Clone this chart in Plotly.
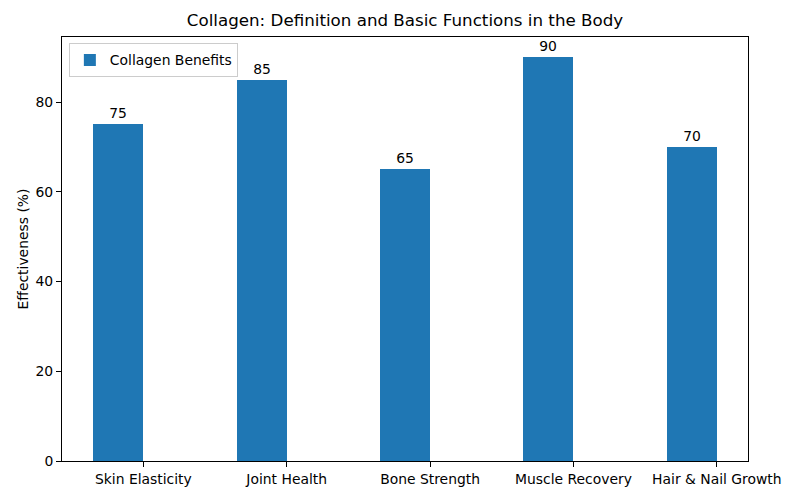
import plotly.graph_objects as go

categories = ["Skin Elasticity", "Joint Health", "Bone Strength", "Muscle Recovery", "Hair & Nail Growth"]
values = [75, 85, 65, 90, 70]
series_name = "Collagen Benefits"
y_ticks = [0, 20, 40, 60, 80]

fig = go.Figure()
fig.add_trace(go.Bar(
    x=categories, y=values, name=series_name,
    marker=dict(color="#1f77b4", line=dict(width=0)),
    offset=-0.35, width=0.35,
    text=[str(v) for v in values], textposition="outside",
    textfont=dict(size=13.9, color="black"), cliponaxis=False,
))

font = "DejaVu Sans, sans-serif"
fig.update_layout(
    width=800, height=500,
    margin=dict(l=62, r=52, t=37, b=39),
    paper_bgcolor="white", plot_bgcolor="white",
    font=dict(family=font, size=13.9, color="black"),
    title=dict(text="Collagen: Definition and Basic Functions in the Body",
               x=0.5, xref="paper", xanchor="center", y=1, yref="container",
               yanchor="top", pad=dict(t=14), font=dict(size=16.7, color="black")),
    showlegend=True,
    legend=dict(x=0.01, y=0.985, xanchor="left", yanchor="top",
                bgcolor="rgba(255,255,255,0.8)", bordercolor="#cccccc", borderwidth=1,
                font=dict(size=13.9)),
    bargap=0,
)
fig.update_xaxes(range=[-0.5675, 4.2175], showline=True, linecolor="black", linewidth=1,
                 mirror=True, ticks="outside", ticklen=5, tickcolor="black",
                 showgrid=False, zeroline=False)
fig.update_yaxes(range=[0, 94.5], tickvals=y_ticks, showline=True, linecolor="black",
                 linewidth=1, mirror=True, ticks="outside", ticklen=5, tickcolor="black",
                 showgrid=False, zeroline=False,
                 title=dict(text="Effectiveness (%)", font=dict(size=13.9), standoff=3))

fig.write_html("out.html")
